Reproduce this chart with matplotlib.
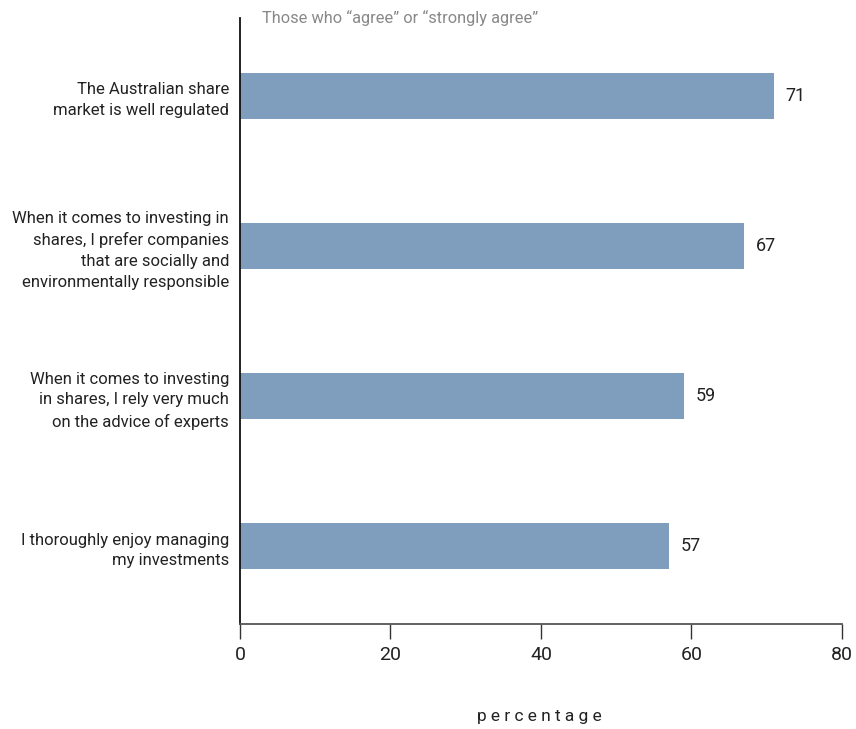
import matplotlib
matplotlib.use("Agg")
import matplotlib.pyplot as plt

plt.rcParams["font.family"] = ["Roboto", "DejaVu Sans"]

categories = [
    "The Australian share\nmarket is well regulated",
    "When it comes to investing in\nshares, I prefer companies\nthat are socially and\nenvironmentally responsible",
    "When it comes to investing\nin shares, I rely very much\non the advice of experts",
    "I thoroughly enjoy managing\nmy investments",
]
values = [71, 67, 59, 57]
xticks = [0, 20, 40, 60, 80]
subtitle = "Those who \u201cagree\u201d or \u201cstrongly agree\u201d"
xlabel = "p e r c e n t a g e"

W, H = 856, 729
fig = plt.figure(figsize=(W / 100, H / 100), dpi=100)
ax = fig.add_axes([240 / W, 1 - 624 / H, 602 / W, 606 / H])

ypos = list(range(len(categories)))
ax.barh(ypos, values, height=0.305, color="#7f9dbc")
ax.set_ylim(len(categories) - 0.48, -0.52)
ax.set_xlim(0, 80)

for y, v in zip(ypos, values):
    ax.text(v + 1.5, y, f"{v}", va="center", ha="left", fontsize=13, color="#222222")

ax.set_yticks(ypos)
ax.set_yticklabels(categories, fontsize=12, color="#222222", linespacing=1.48)
ax.tick_params(axis="y", length=0, pad=8)
ax.set_xticks(xticks)
ax.set_xticklabels([str(t) for t in xticks], fontsize=14, color="#222222")
ax.tick_params(axis="x", length=11, width=1, color="#333333", pad=5, direction="out")

for s in ["top", "right"]:
    ax.spines[s].set_visible(False)
ax.spines["left"].set_linewidth(1.3)
ax.spines["left"].set_color("#111111")
ax.spines["bottom"].set_linewidth(1.3)
ax.spines["bottom"].set_color("#555555")

fig.text(262 / W, 1 - 18 / H, subtitle, fontsize=11.8, color="#888888", ha="left", va="center")
fig.text(539 / W, 1 - 717 / H, xlabel, fontsize=12.5, color="#222222", ha="center", va="center")

fig.savefig("out.png", dpi=100)
